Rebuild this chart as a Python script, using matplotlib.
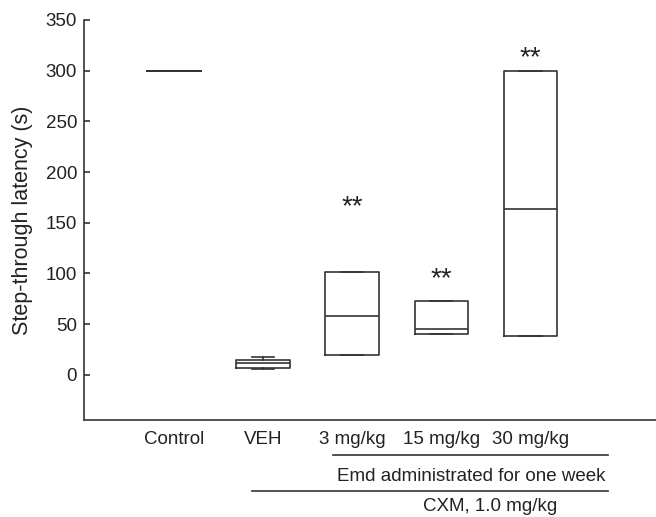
import matplotlib.pyplot as plt

plt.rcParams['font.family'] = ['Liberation Sans', 'DejaVu Sans']

# group labels and box statistics (seconds)
groups = ['Control', 'VEH', '3 mg/kg', '15 mg/kg', '30 mg/kg']
whislo = [300, 5.5, 20, 40, 38]
q1 = [300, 7, 20, 40, 38]
med = [300, 11.5, 58, 45, 164]
q3 = [300, 14.5, 101, 73, 300]
whishi = [300, 18, 101, 73, 300]
star_y = [None, None, 169, 98, 316]

ink = '#333333'
txt = '#222222'
fs = 13.5

fig = plt.figure(figsize=(6.56, 5.17), dpi=100)
ax = fig.add_axes([0.128, 0.1876, 0.872, 0.774])

positions = list(range(1, len(groups) + 1))
stats = []
for i, g in enumerate(groups):
    stats.append(dict(label=g, whislo=whislo[i], q1=q1[i], med=med[i],
                      q3=q3[i], whishi=whishi[i], fliers=[]))

lp = dict(color=ink, linewidth=1.2)
ax.bxp(stats, positions=positions, widths=0.6, showfliers=False,
       boxprops=lp, medianprops=lp, whiskerprops=lp,
       capprops=lp, capwidths=0.25)

# significance marks, star centre at the read value
for p, s in zip(positions, star_y):
    if s is not None:
        ax.annotate('**', (p, s), xytext=(0, -7.5), textcoords='offset points',
                    ha='center', va='baseline', fontsize=20, color=txt)

ax.set_xlim(-0.01, 6.41)
ax.set_ylim(-44.5, 350)
ax.set_yticks(range(0, 351, 50))
ax.set_xticks(positions)
ax.set_xticklabels(groups)
ax.set_ylabel('Step-through latency (s)', fontsize=15.5, color=txt, labelpad=9)

ax.spines['top'].set_visible(False)
ax.spines['right'].set_visible(False)
for sp in ['left', 'bottom']:
    ax.spines[sp].set_color(ink)
    ax.spines[sp].set_linewidth(1.2)
ax.tick_params(axis='y', direction='in', length=4, width=1.2, color=ink,
               labelsize=fs, labelcolor=txt, pad=5)
ax.tick_params(axis='x', length=0, labelsize=fs, labelcolor=txt, pad=8)

# treatment brackets under the axis
tr = ax.get_xaxis_transform()
ax.plot([2.79, 5.87], [-0.087, -0.087], transform=tr, clip_on=False,
        color=ink, linewidth=1.2)
ax.text(4.34, -0.142, 'Emd administrated for one week', transform=tr,
        ha='center', va='center', fontsize=fs, color=txt)
ax.plot([1.88, 5.87], [-0.177, -0.177], transform=tr, clip_on=False,
        color=ink, linewidth=1.2)
ax.text(4.55, -0.217, 'CXM, 1.0 mg/kg', transform=tr,
        ha='center', va='center', fontsize=fs, color=txt)

fig.savefig('out.png', dpi=100)
